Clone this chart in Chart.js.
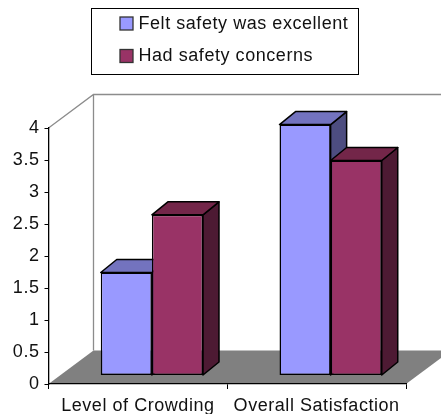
<!DOCTYPE html>
<html><head><meta charset="utf-8">
<script src="https://cdn.jsdelivr.net/npm/chart.js@4"></script>
<style>html,body{margin:0;padding:0;background:#fff}canvas{display:block}</style>
</head><body><canvas id="c" width="441" height="414"></canvas>
<script>
const categories = ["Level of Crowding", "Overall Satisfaction"];
const feltSafe = [1.61, 3.92];
const hadConcerns = [2.51, 3.36];
const seriesNames = ["Felt safety was excellent", "Had safety concerns"];
const yTickLabels = ["0", "0.5", "1", "1.5", "2", "2.5", "3", "3.5", "4"];
const frontColors = ["#9999FF", "#993366"];
const topColors = ["#7373BF", "#732649"];
const sideColors = ["#4D4D80", "#4D1A33"];
const FONT = '"Liberation Sans", Arial, sans-serif';
const SHIFT = {x: 14, y: -8.5}, DEPTH = {x: 16, y: -13};

function poly(ctx, pts, fill, stroke, lw) {
  ctx.beginPath();
  pts.forEach((p, i) => i ? ctx.lineTo(p[0], p[1]) : ctx.moveTo(p[0], p[1]));
  ctx.closePath();
  if (fill) { ctx.fillStyle = fill; ctx.fill(); }
  if (stroke) { ctx.strokeStyle = stroke; ctx.lineWidth = lw; ctx.lineJoin = 'round'; ctx.stroke(); }
}
const scene = {
  id: 'scene',
  beforeDraw(chart) {
    const {ctx, chartArea: a} = chart;
    ctx.letterSpacing = '0.55px';
    ctx.save();
    ctx.fillStyle = '#fff';
    ctx.fillRect(0, 0, chart.width, chart.height);
    const bx = 45, by = -33.5;
    poly(ctx, [[a.left, a.bottom], [a.right, a.bottom], [a.right + bx, a.bottom + by], [a.left + bx, a.bottom + by]], '#808080');
    ctx.strokeStyle = '#8c8c8c'; ctx.lineWidth = 1.3;
    ctx.beginPath();
    ctx.moveTo(a.left, a.top);
    ctx.lineTo(a.left + bx, a.top + by);
    ctx.lineTo(chart.width + 2, a.top + by);
    ctx.moveTo(a.left + bx, a.top + by);
    ctx.lineTo(a.left + bx, a.bottom + by);
    ctx.stroke();
    ctx.restore();
  },
  beforeDatasetsDraw(chart) {
    const ctx = chart.ctx;
    ctx.save();
    ctx.translate(SHIFT.x, SHIFT.y);
    categories.forEach((_, i) => {
      chart.data.datasets.forEach((d, k) => {
        const b = chart.getDatasetMeta(k).data[i];
        const w = b.width / 2, l = b.x - w, r = b.x + w, t = b.y, bot = b.base;
        const dx = DEPTH.x, dy = DEPTH.y;
        poly(ctx, [[r, t], [r + dx, t + dy], [r + dx, bot + dy], [r, bot]], sideColors[k], '#000', 1.5);
        poly(ctx, [[l, t], [l + dx, t + dy], [r + dx, t + dy], [r, t]], topColors[k], '#000', 1.5);
      });
    });
  },
  afterDatasetsDraw(chart) { chart.ctx.restore(); },
  afterDraw(chart) {
    const ctx = chart.ctx;
    ctx.save();
    ctx.strokeStyle = '#000'; ctx.lineWidth = 1;
    ctx.strokeRect(91.5, 8.5, 267, 66);
    ctx.font = '18px ' + FONT;
    ctx.textBaseline = 'middle'; ctx.textAlign = 'left';
    seriesNames.forEach((name, k) => {
      const y = 24 + k * 32.5;
      ctx.fillStyle = frontColors[k];
      ctx.fillRect(120, y - 7, 13, 13);
      ctx.strokeStyle = '#333'; ctx.lineWidth = 1.3;
      ctx.strokeRect(120, y - 7, 13, 13);
      ctx.fillStyle = '#111';
      ctx.fillText(name, 138.5, y);
    });
    ctx.restore();
  }
};
new Chart(document.getElementById('c'), {
  type: 'bar',
  data: {
    labels: categories,
    datasets: [
      {label: seriesNames[0], data: feltSafe, backgroundColor: frontColors[0]},
      {label: seriesNames[1], data: hadConcerns, backgroundColor: frontColors[1]}
    ].map(d => Object.assign(d, {borderColor: '#000', borderWidth: 1.5, borderSkipped: false, clip: false}))
  },
  options: {
    responsive: false, animation: false, devicePixelRatio: 1,
    categoryPercentage: 0.572, barPercentage: 1,
    layout: {padding: {left: 0, right: 35, top: 128, bottom: 0}},
    plugins: {legend: {display: false}, tooltip: {enabled: false}},
    scales: {
      x: {
        afterFit(s) { s.height = 30; },
        grid: {display: true, drawOnChartArea: false, drawTicks: true, tickLength: 5, tickColor: '#000', tickWidth: 1},
        border: {color: '#000', width: 1.3},
        ticks: {color: '#111', font: {family: FONT, size: 18}, maxRotation: 0, autoSkip: false, padding: 6}
      },
      y: {
        min: 0, max: 4,
        afterFit(s) { s.width = 48.5; },
        grid: {display: true, drawOnChartArea: false, drawTicks: true, tickLength: 4, tickColor: '#000', tickWidth: 1},
        border: {color: '#000', width: 1.3},
        ticks: {stepSize: 0.5, color: '#111', font: {family: FONT, size: 18}, padding: 5,
                callback: (v, i) => yTickLabels[i]}
      }
    }
  },
  plugins: [scene]
});
</script></body></html>
